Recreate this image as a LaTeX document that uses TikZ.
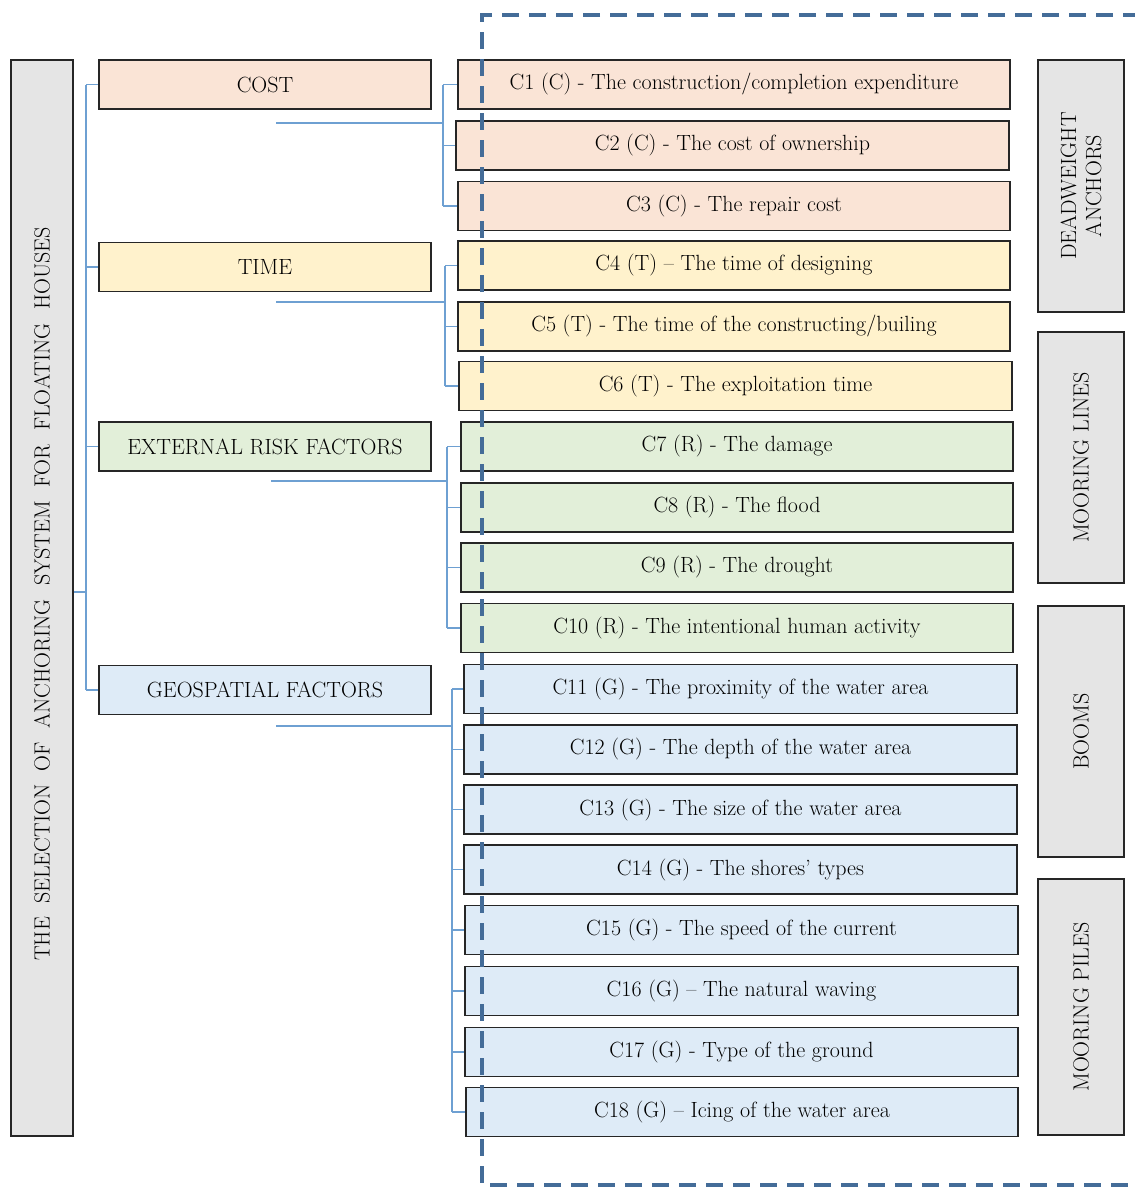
\documentclass[tikz,border=0pt]{standalone}
\usetikzlibrary{calc}
\definecolor{costc}{RGB}{250,228,214}
\definecolor{timec}{RGB}{255,242,204}
\definecolor{extc}{RGB}{226,239,217}
\definecolor{geoc}{RGB}{222,235,247}
\definecolor{grayc}{RGB}{229,229,229}
\definecolor{linec}{RGB}{110,160,210}
\definecolor{dashc}{RGB}{68,108,152}
\begin{document}
\begin{tikzpicture}[x=1pt,y=-1pt,
  txt/.style={font=\fontsize{22}{25}\selectfont,text=black},
  box/.style={txt,draw=black!85,line width=1.6pt,inner sep=0pt,minimum height=49pt},
  catbox/.style={box,minimum width=332pt},
  crit/.style={box},
  sidebox/.style={box,fill=grayc,minimum width=86pt,align=center},
  conn/.style={draw=linec,line width=1.2pt},
  frame/.style={draw=dashc,line width=4pt,dash pattern=on 17pt off 10pt}]
\useasboundingbox (0,0) rectangle (1135,1189);
% main box
\node[box,fill=grayc,minimum width=62pt,minimum height=1076pt] (main) at (42,598) {};
\node[rotate=90,txt] (maintext) at (42,594)
  {THE\ \ SELECTION\ \ OF\ \ ANCHORING\ \ SYSTEM\ \ FOR\ \ FLOATING\ \ HOUSES};
% categories
\node[catbox,fill=costc] (cost) at (265,84.5) {COST};
\node[catbox,fill=timec] (time) at (265,267) {TIME};
\node[catbox,fill=extc] (ext) at (265,446.5) {EXTERNAL RISK FACTORS};
\node[catbox,fill=geoc] (geo) at (265,690) {GEOSPATIAL FACTORS};
% criteria
\node[crit,fill=costc,minimum width=552pt] (c1) at (734,84.5) {C1 (C) - The construction/completion expenditure};
\node[crit,fill=costc,minimum width=553pt] (c2) at (732.5,145.5) {C2 (C) - The cost of ownership};
\node[crit,fill=costc,minimum width=552pt] (c3) at (734,206) {C3 (C) - The repair cost};
\node[crit,fill=timec,minimum width=552pt] (c4) at (734,265.5) {C4 (T) -- The time of designing};
\node[crit,fill=timec,minimum width=552pt] (c5) at (734,326.5) {C5 (T) - The time of the constructing/builing};
\node[crit,fill=timec,minimum width=553pt] (c6) at (735.5,386) {C6 (T) - The exploitation time};
\node[crit,fill=extc,minimum width=552pt] (c7) at (737,446.5) {C7 (R) - The damage};
\node[crit,fill=extc,minimum width=552pt] (c8) at (737,507.5) {C8 (R) - The flood};
\node[crit,fill=extc,minimum width=552pt] (c9) at (737,567.5) {C9 (R) - The drought};
\node[crit,fill=extc,minimum width=552pt] (c10) at (737,628) {C10 (R) - The intentional human activity};
\node[crit,fill=geoc,minimum width=553pt] (c11) at (740.5,689) {C11 (G) - The proximity of the water area};
\node[crit,fill=geoc,minimum width=553pt] (c12) at (740.5,749.5) {C12 (G) - The depth of the water area};
\node[crit,fill=geoc,minimum width=553pt] (c13) at (740.5,809.5) {C13 (G) - The size of the water area};
\node[crit,fill=geoc,minimum width=553pt] (c14) at (740.5,869.5) {C14 (G) - The shores' types};
\node[crit,fill=geoc,minimum width=553pt] (c15) at (741.5,930) {C15 (G) - The speed of the current};
\node[crit,fill=geoc,minimum width=553pt] (c16) at (741.5,991) {C16 (G) -- The natural waving};
\node[crit,fill=geoc,minimum width=553pt] (c17) at (741.5,1052) {C17 (G) - Type of the ground};
\node[crit,fill=geoc,minimum width=552pt] (c18) at (742,1112) {C18 (G) -- Icing of the water area};
% side boxes
\node[sidebox,minimum height=252pt] (dw) at (1081,186) {};
\node[rotate=90,align=center,txt] (dwt) at (dw.center) {DEADWEIGHT\\ANCHORS};
\node[sidebox,minimum height=251pt] (ml) at (1081,457.5) {};
\node[rotate=90,txt] (mlt) at (ml.center) {MOORING LINES};
\node[sidebox,minimum height=251pt] (bm) at (1081,731.5) {};
\node[rotate=90,txt] (bmt) at (bm.center) {BOOMS};
\node[sidebox,minimum height=256pt] (mp) at (1081,1007) {};
\node[rotate=90,txt] (mpt) at (mp.center) {MOORING PILES};
% left tree
\coordinate (t) at (86,592);
\draw[conn] (main.east |- t) -- (t);
\draw[conn] (t |- cost.west) -- (t |- geo.west);
\foreach \n in {cost,time,ext,geo} \draw[conn] (t |- \n.west) -- (\n.west);
% group connectors
\coordinate (ga) at (276,123); \coordinate (gab) at (443,123);
\draw[conn] (ga) -- (gab);
\draw[conn] (gab |- c1.west) -- (gab |- c3.west);
\foreach \n in {c1,c2,c3} \draw[conn] (gab |- \n.west) -- (\n.west);
\coordinate (gb) at (276,302); \coordinate (gbb) at (445,302);
\draw[conn] (gb) -- (gbb);
\draw[conn] (gbb |- c4.west) -- (gbb |- c6.west);
\foreach \n in {c4,c5,c6} \draw[conn] (gbb |- \n.west) -- (\n.west);
\coordinate (gc) at (271,481); \coordinate (gcb) at (447,481);
\draw[conn] (gc) -- (gcb);
\draw[conn] (gcb |- c7.west) -- (gcb |- c10.west);
\foreach \n in {c7,c8,c9,c10} \draw[conn] (gcb |- \n.west) -- (\n.west);
\coordinate (gd) at (276,726); \coordinate (gdb) at (452,726);
\draw[conn] (gd) -- (gdb);
\draw[conn] (gdb |- c11.west) -- (gdb |- c18.west);
\foreach \n in {c11,c12,c13,c14,c15,c16,c17,c18} \draw[conn] (gdb |- \n.west) -- (\n.west);
% dashed frame
\coordinate (fa) at (1140,15); \coordinate (fb) at (482,15);
\coordinate (fc) at (482,1185); \coordinate (fd) at (1140,1185);
\draw[frame] (fa) -- (fb) -- (fc) -- (fd);
\end{tikzpicture}
\end{document}
